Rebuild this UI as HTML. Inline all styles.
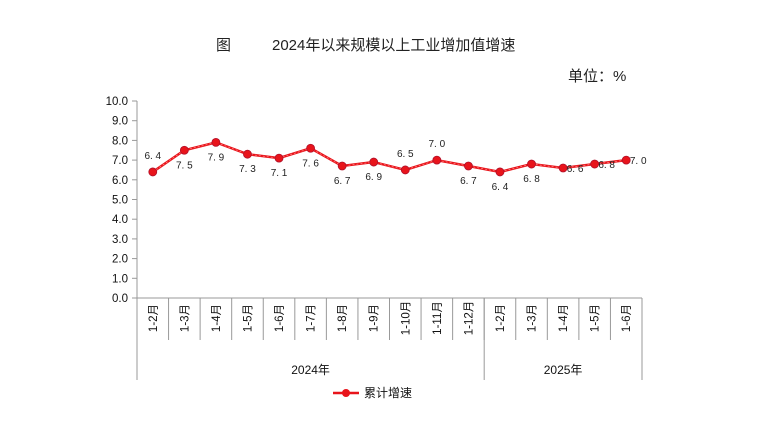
<!DOCTYPE html>
<html><head><meta charset="utf-8"><style>
body{margin:0;background:#fff;width:761px;height:431px;overflow:hidden}
text{font-family:"Liberation Sans","Noto Sans CJK SC",sans-serif}
</style></head><body>
<svg id="c" width="761" height="431">
<text x="216" y="50" font-size="15" fill="#222">图</text>
<text x="272" y="50" font-size="15" fill="#222">2024年以来规模以上工业增加值增速</text>
<text x="568" y="81" font-size="15" fill="#222">单位：%</text>
<g id="g"></g>
</svg>
<script>
const categories=["1-2月","1-3月","1-4月","1-5月","1-6月","1-7月","1-8月","1-9月","1-10月","1-11月","1-12月","1-2月","1-3月","1-4月","1-5月","1-6月"];
const values=[6.4,7.5,7.9,7.3,7.1,7.6,6.7,6.9,6.5,7.0,6.7,6.4,6.8,6.6,6.8,7.0];
const labelPos=["a","b","b","b","b","b","b","b","a","a","b","b","b","r","r","r"];
const yTicks=[0,1,2,3,4,5,6,7,8,9,10];
const groups=[{name:"2024年",n:11},{name:"2025年",n:5}];
const ns="http://www.w3.org/2000/svg",g=document.getElementById('g');
const x0=137,x1=642,y0=298,y1=101,step=(x1-x0)/categories.length;
const X=i=>x0+step*(i+0.5),Y=v=>y0-(v-0)/(10-0)*(y0-y1);
function el(t,a,p){const e=document.createElementNS(ns,t);for(const k in a)e.setAttribute(k,a[k]);(p||g).appendChild(e);return e;}
let e=el('line',{x1:x0,y1:y1,x2:x0,y2:380,stroke:'#999'});


e=el('line',{x1:x0,y1:y0,x2:x1,y2:y0,stroke:'#999'});


yTicks.forEach(v=>{
 let t=el('line',{x1:x0-5,y1:Y(v),x2:x0,y2:Y(v),stroke:'#999'});
 
 
 let l=el('text',{x:x0-9,y:Y(v)+4,'font-size':11.5,'text-anchor':'end',fill:'#111'});
 l.textContent=v.toFixed(1);
 
 
});
categories.forEach((c,i)=>{
 let t=el('line',{x1:x0+step*(i+1),y1:y0,x2:x0+step*(i+1),y2:340,stroke:'#999'});
 
 
 let l=el('text',{x:0,y:0,'font-size':11.5,'text-anchor':'middle',fill:'#111',transform:`translate(${X(i)+4},318) rotate(-90)`});
 l.textContent=c;
 
 
});
let gi=0;
groups.forEach(gr=>{
 const a=x0+gi*step,b=x0+(gi+gr.n)*step;gi+=gr.n;
 let t=el('line',{x1:b,y1:y0,x2:b,y2:380,stroke:'#999'});
 
 
 let l=el('text',{x:(a+b)/2,y:374,'font-size':12,'text-anchor':'middle',fill:'#111'});
 l.textContent=gr.name;
 
 
});
let pts=values.map((v,i)=>X(i)+','+Y(v)).join(' ');
e=el('polyline',{points:pts,fill:'none',stroke:'#e8141b','stroke-width':2.5});


el('polyline',{points:pts,fill:'none',stroke:'#ff8080','stroke-width':0.8,'stroke-dasharray':'2 2'});
values.forEach((v,i)=>{
 let d=el('circle',{cx:X(i),cy:Y(v),r:4,fill:'#e8141b',stroke:'#b0102a','stroke-width':0.8});
 
 
 let p=labelPos[i],lx=X(i),ly=Y(v)+18;
 if(p==='a'){ly=Y(v)-13;} if(p==='r'){lx=X(i)+12;ly=Y(v)+4;}
 let l=el('text',{x:lx,y:ly,'font-size':10,'text-anchor':p==='r'?'middle':'middle',fill:'#222','font-family':'Liberation Mono,monospace'});
 l.textContent=v.toFixed(1).replace('.','. ');
 
 
});
e=el('line',{x1:333,y1:393,x2:359,y2:393,stroke:'#e8141b','stroke-width':2.5});


e=el('circle',{cx:346,cy:393,r:4,fill:'#e8141b'});


e=el('text',{x:364,y:397,'font-size':12,fill:'#111'});
e.textContent='累计增速';


</script>
</body></html>
